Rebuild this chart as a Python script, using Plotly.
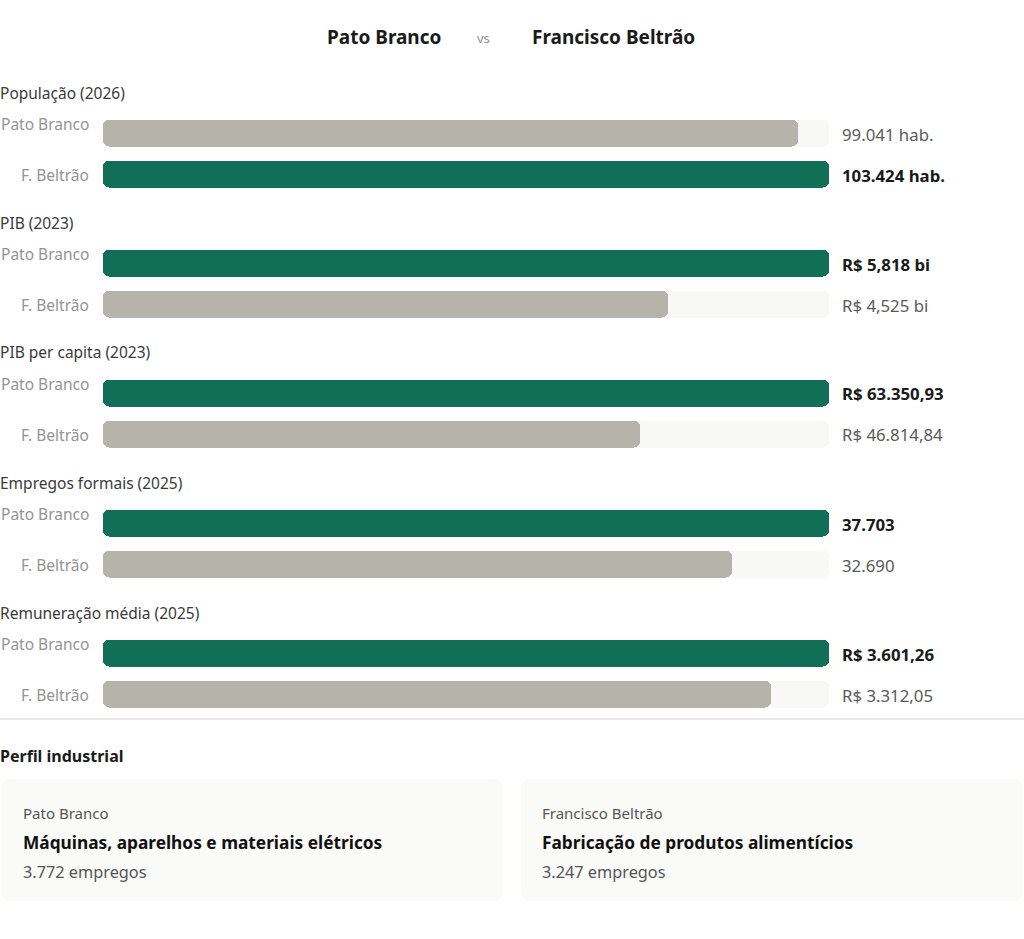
import plotly.graph_objects as go
from plotly.subplots import make_subplots

# ---------------- data ----------------
metrics = ["População (2026)", "PIB (2023)", "PIB per capita (2023)",
           "Empregos formais (2025)", "Remuneração média (2025)"]
row_labels = ["Pato Branco", "F. Beltrão"]
pato_branco = [99041, 5.818, 63350.93, 37703, 3601.26]
f_beltrao = [103424, 4.525, 46814.84, 32690, 3312.05]
pb_text = ["99.041 hab.", "R$ 5,818 bi", "R$ 63.350,93", "37.703", "R$ 3.601,26"]
fb_text = ["103.424 hab.", "R$ 4,525 bi", "R$ 46.814,84", "32.690", "R$ 3.312,05"]

industry_city = ["Pato Branco", "Francisco Beltrão"]
industry_sector = ["Máquinas, aparelhos e materiais elétricos",
                   "Fabricação de produtos alimentícios"]
industry_jobs = ["3.772 empregos", "3.247 empregos"]

# ---------------- style ----------------
W, H = 1024, 939
FONT = "Noto Sans"
GREEN = "#116f58"
GRAY = "#b6b3ab"
TRACK = "#f8f8f6"

def py(px):
    return 1 - px / H

fig = make_subplots(rows=5, cols=1)

def rounded_bar(vals, colors, row, hover=None):
    # two overlapping pieces: right piece rounds the right end,
    # left piece (growing leftwards) rounds the left end; inner ends are hidden
    a = [v * 0.25 for v in vals]
    b = [v * 0.5 for v in vals]
    fig.add_trace(go.Bar(y=row_labels, x=[-bb for bb in b], base=b, orientation="h",
                         marker=dict(color=colors, cornerradius=6, line=dict(width=0)),
                         width=0.68, showlegend=False, hoverinfo="skip"),
                  row=row, col=1)
    fig.add_trace(go.Bar(y=row_labels, x=[v - aa for v, aa in zip(vals, a)], base=a,
                         orientation="h",
                         marker=dict(color=colors, cornerradius=6, line=dict(width=0)),
                         width=0.68, showlegend=False,
                         hovertext=hover, hoverinfo="text" if hover else "skip"),
                  row=row, col=1)

x0, x1 = 103 / W, 829 / W
annotations = []
for i, m in enumerate(metrics):
    r = i + 1
    pb, fb = pato_branco[i], f_beltrao[i]
    mx = max(pb, fb)
    vals = [pb / mx, fb / mx]
    cols = [GREEN if v >= 1 else GRAY for v in vals]
    rounded_bar([1, 1], [TRACK, TRACK], r)
    rounded_bar(vals, cols, r, hover=[pb_text[i], fb_text[i]])
    top = 112.5 + 130 * i
    bot = top + 82
    xa = "xaxis" if r == 1 else f"xaxis{r}"
    ya = "yaxis" if r == 1 else f"yaxis{r}"
    fig.layout[xa].update(domain=[x0, x1], range=[0, 1], visible=False, fixedrange=True)
    fig.layout[ya].update(domain=[py(bot), py(top)], type="category",
                          categoryorder="array", categoryarray=row_labels[::-1],
                          range=[-0.5, 1.5], visible=False, fixedrange=True)
    xref = "x" if r == 1 else f"x{r}"
    yref = "y" if r == 1 else f"y{r}"
    # section title
    annotations.append(dict(text=m, xref="paper", yref=f"{yref} domain", x=0, y=1,
                            xanchor="left", yanchor="bottom", yshift=7, xshift=-2,
                            showarrow=False,
                            font=dict(family=FONT, size=15.5, color="#3a3a3a")))
    # row labels
    annotations.append(dict(text=row_labels[0], xref="paper", yref=yref, x=91 / W,
                            y=row_labels[0], xanchor="right", yanchor="middle", yshift=9,
                            showarrow=False, font=dict(family=FONT, size=15.5, color="#939393")))
    annotations.append(dict(text=row_labels[1], xref="paper", yref=yref, x=91 / W,
                            y=row_labels[1], xanchor="right", yanchor="middle", yshift=-1,
                            showarrow=False, font=dict(family=FONT, size=15.5, color="#939393")))
    # value labels
    for lab, txt, v in zip(row_labels, [pb_text[i], fb_text[i]], vals):
        win = v >= 1
        annotations.append(dict(text=f"<b>{txt}</b>" if win else txt, xref=xref, yref=yref,
                                x=1, y=lab, xanchor="left", yanchor="middle", xshift=11,
                                yshift=-1, showarrow=False,
                                font=dict(family=FONT, size=16.8,
                                          color="#1a1a1a" if win else "#5a5a5a")))

# header
annotations += [
    dict(text="<b>Pato Branco</b>", xref="paper", yref="paper", x=384 / W, y=py(37),
         xanchor="center", yanchor="middle", showarrow=False,
         font=dict(family=FONT, size=19, color="#1a1a1a")),
    dict(text="vs", xref="paper", yref="paper", x=483 / W, y=py(38),
         xanchor="center", yanchor="middle", showarrow=False,
         font=dict(family=FONT, size=13, color="#909090")),
    dict(text="<b>Francisco Beltrão</b>", xref="paper", yref="paper", x=613 / W, y=py(37),
         xanchor="center", yanchor="middle", showarrow=False,
         font=dict(family=FONT, size=19, color="#1a1a1a")),
    dict(text="<b>Perfil industrial</b>", xref="paper", yref="paper", x=0, y=py(756),
         xanchor="left", yanchor="middle", xshift=-2, showarrow=False,
         font=dict(family=FONT, size=16, color="#1a1a1a")),
]

shapes = [dict(type="line", xref="paper", yref="paper", x0=0, x1=1, y0=py(719), y1=py(719),
               line=dict(color="#e9e9e7", width=2))]
cards = [(2, 502), (521, 1022)]
for (ca, cb), city, sec, jobs in zip(cards, industry_city, industry_sector, industry_jobs):
    xa_, xb_ = ca / W, cb / W
    ya_, yb_ = py(779), py(901)
    rx = 10 / W
    ry = 10 / H
    path = (f"M{xa_+rx},{ya_} L{xb_-rx},{ya_} Q{xb_},{ya_} {xb_},{ya_-ry} "
            f"L{xb_},{yb_+ry} Q{xb_},{yb_} {xb_-rx},{yb_} L{xa_+rx},{yb_} "
            f"Q{xa_},{yb_} {xa_},{yb_+ry} L{xa_},{ya_-ry} Q{xa_},{ya_} {xa_+rx},{ya_} Z")
    shapes.append(dict(type="path", xref="paper", yref="paper", path=path,
                       fillcolor="#fafaf9", line=dict(width=0), layer="below"))
    tx = (ca + 19) / W
    annotations += [
        dict(text=city, xref="paper", yref="paper", x=tx, y=py(813), xanchor="left",
             yanchor="middle", showarrow=False, font=dict(family=FONT, size=15, color="#555555")),
        dict(text=f"<b>{sec}</b>", xref="paper", yref="paper", x=tx, y=py(842),
             xanchor="left", yanchor="middle", showarrow=False,
             font=dict(family=FONT, size=17.3, color="#111111")),
        dict(text=jobs, xref="paper", yref="paper", x=tx, y=py(872), xanchor="left",
             yanchor="middle", showarrow=False, font=dict(family=FONT, size=16.3, color="#555555")),
    ]

fig.update_layout(width=W, height=H, margin=dict(l=0, r=0, t=0, b=0),
                  paper_bgcolor="white", plot_bgcolor="rgba(0,0,0,0)",
                  barmode="overlay", bargap=0, annotations=annotations, shapes=shapes,
                  font=dict(family=FONT), showlegend=False)

fig.write_html("out.html", config={"displayModeBar": False},
               post_script="document.body.style.margin='0';")
